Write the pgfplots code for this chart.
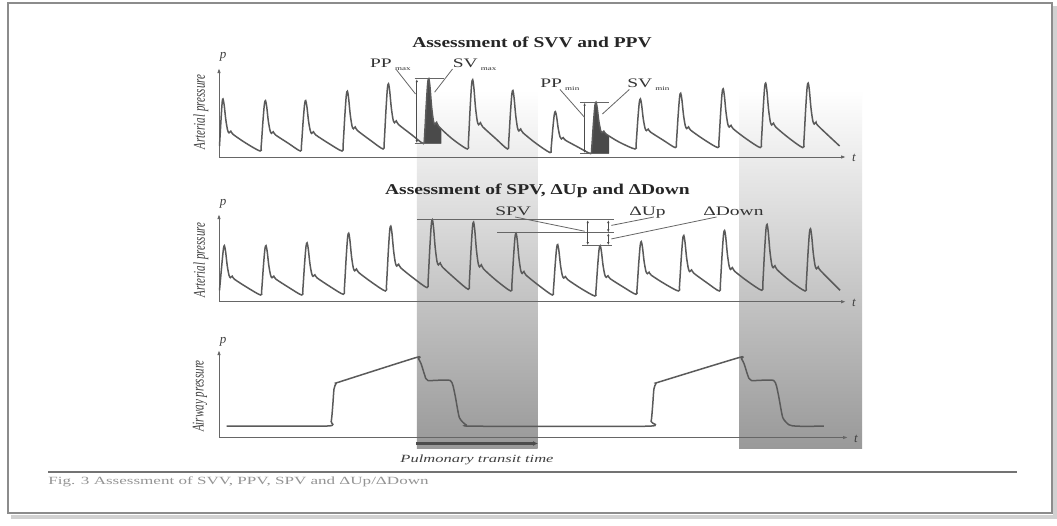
\documentclass[border=0pt]{standalone}
\usepackage{pgfplots}
\pgfplotsset{compat=1.18}
\usepackage{fontspec}
\setmainfont{Liberation Serif}
\usetikzlibrary{arrows.meta}
\definecolor{wave}{HTML}{5A5A5A}
\definecolor{svfill}{HTML}{4A4A4A}
\tikzset{
  lbl/.style={font=\fontsize{13}{15}\selectfont, xscale=1.5, inner sep=0pt, text=black!80},
  ttl/.style={font=\fontsize{15}{17}\selectfont\bfseries, xscale=1.3, inner sep=0pt, text=black!85},
  axl/.style={font=\fontsize{11}{13}\selectfont\itshape, xscale=1.5, rotate=90, inner sep=0pt, text=black!75},
  pt/.style={font=\fontsize{13}{15}\selectfont\itshape, inner sep=0pt, text=black!75},
  ax/.style={draw=black!60, line width=1pt, -{Latex[length=5pt,width=3.5pt]}},
  thin/.style={draw=black!60, line width=0.8pt},
  dbl/.style={draw=black!70, line width=0.8pt, {Latex[length=3pt,width=2.5pt]}-{Latex[length=3pt,width=2.5pt]}},
}
\begin{document}
\begin{tikzpicture}
\begin{axis}[x=1pt, y=1pt, xmin=0, xmax=1057, ymin=0, ymax=525, y dir=reverse,
  hide axis, clip=false, scale only axis]
% background and frame
\fill[white] (axis cs:0,0) rectangle (axis cs:1057,525);
\draw[black!18, line width=4pt] (axis cs:11,517) -- (axis cs:1055,517) -- (axis cs:1055,6);
\draw[black!45, line width=1.3pt] (axis cs:8,3) rectangle (axis cs:1052,513);
% gray bands
\shade[top color=white, middle color=black!24, bottom color=black!40] (axis cs:416.8,90) rectangle (axis cs:537.5,448);
\shade[top color=white, middle color=black!24, bottom color=black!40] (axis cs:739,90) rectangle (axis cs:862,448);
% caption rule and caption
\draw[black!55, line width=1.6pt] (axis cs:48,472) -- (axis cs:1017,472);
\node[anchor=base west, font=\fontsize{11}{13}\selectfont, xscale=1.55, text=black!42, inner sep=0pt] at (axis cs:48,484) {Fig. 3  Assessment of SVV, PPV, SPV and ΔUp/ΔDown};
% titles
\node[ttl] at (axis cs:532,42) {Assessment of SVV and PPV};
\node[ttl] at (axis cs:537.5,191) {Assessment of SPV, ΔUp and ΔDown};
% axes panel 1
\draw[ax] (axis cs:219,157) -- (axis cs:219,68);
\draw[ax] (axis cs:219,157) -- (axis cs:846,157);
\node[pt] at (axis cs:223,57) {p};
\node[pt] at (axis cs:854,158) {t};
\node[axl] at (axis cs:201,112) {Arterial pressure};
% axes panel 2
\draw[ax] (axis cs:219,301.7) -- (axis cs:219,214);
\draw[ax] (axis cs:219,301.7) -- (axis cs:846,301.7);
\node[pt] at (axis cs:223,204) {p};
\node[pt] at (axis cs:854,303) {t};
\node[axl] at (axis cs:201,260) {Arterial pressure};
% axes panel 3
\draw[ax] (axis cs:219,437.5) -- (axis cs:219,350);
\draw[ax] (axis cs:219,437.5) -- (axis cs:848,437.5);
\node[pt] at (axis cs:223,341.5) {p};
\node[pt] at (axis cs:856,438.5) {t};
\node[axl] at (axis cs:200,396) {Airway pressure};
% SV areas
\addplot[draw=none, fill=svfill] coordinates {(423.4,143.6) (424.5,137.1) (426.2,106) (427.7,83.2) (428.8,78.7) (430,87.1) (431.6,106.8) (433.4,120.9) (434.8,124.4) (436.6,122.3) (438.8,126.5) (441.4,128.9) (441.4,143.6)} -- cycle;
\addplot[draw=none, fill=svfill] coordinates {(590.6,153.6) (591.7,148.5) (593.4,123.8) (594.9,105.8) (596,102.2) (597.2,107.8) (598.8,120.9) (600.6,130.3) (602,132.6) (603.8,131.2) (606,134) (609.1,135.9) (609.1,153.6)} -- cycle;
% panel 1 arterial pressure
\addplot[wave, line width=1.5pt, smooth, tension=0.5] coordinates {
(219.5,146) (221,120) (222.2,102) (223,98.9) (224.2,105.2) (225.8,119.7) (227.6,130.2) (229,132.8) (230.8,131.2) (233,134.3) (246,143.2)
(260.1,151) (261.2,146) (262.9,121.8) (264.4,104.1) (265.5,100.6) (266.7,106.6) (268.3,120.8) (270.1,130.8) (271.5,133.4) (273.3,131.8) (275.5,134.9) (288.5,143.4)
(300.3,151) (301.4,146) (303.1,121.8) (304.6,104.1) (305.7,100.6) (306.9,106.6) (308.5,120.8) (310.3,130.8) (311.7,133.4) (313.5,131.8) (315.7,134.9) (328.7,143.4)
(342,151) (343.1,145) (344.8,116.3) (346.3,95.4) (347.4,91.2) (348.6,98.1) (350.2,114.3) (352,125.9) (353.4,128.8) (355.2,127) (357.4,130.5) (370.4,140.3)
(383.1,149) (384.2,142.5) (385.9,111.2) (387.4,88.4) (388.5,83.8) (389.7,91) (391.3,107.7) (393.1,119.7) (394.5,122.7) (396.3,120.9) (398.5,124.5) (411.5,134.6)
(423.4,143.6) (424.5,137.1) (426.2,106) (427.7,83.2) (428.8,78.7) (430,87.1) (431.6,106.8) (433.4,120.9) (434.8,124.4) (436.6,122.3) (438.8,126.5) (451.8,138.5)
(467.3,149) (468.4,142.1) (470.1,108.8) (471.6,84.6) (472.7,79.7) (473.9,88) (475.5,107.4) (477.3,121.3) (478.7,124.7) (480.5,122.7) (482.7,126.8) (495.7,138.6)
(507.5,149) (508.6,143.1) (510.3,115.1) (511.8,94.6) (512.9,90.5) (514.1,98) (515.7,115.3) (517.5,127.8) (518.9,130.9) (520.7,129) (522.9,132.7) (535.9,143.3)
(550,152.6) (551.1,148.5) (552.8,128.8) (554.3,114.5) (555.4,111.6) (556.6,116.6) (558.2,128.4) (560,136.8) (561.4,138.9) (563.2,137.6) (565.4,140.2) (578.4,147.3)
(590.6,153.6) (591.7,148.5) (593.4,123.8) (594.9,105.8) (596,102.2) (597.2,107.8) (598.8,120.9) (600.6,130.3) (602,132.6) (603.8,131.2) (606,134) (619,142)
(635,149) (636.1,144) (637.8,119.9) (639.3,102.4) (640.4,98.9) (641.6,104.7) (643.2,118.4) (645,128.1) (646.4,130.6) (648.2,129.1) (650.4,132) (663.4,140.3)
(675.3,147.6) (676.4,142.2) (678.1,116) (679.6,97) (680.7,93.2) (681.9,99.7) (683.5,115) (685.3,125.8) (686.7,128.6) (688.5,126.9) (690.7,130.2) (703.7,139.4)
(717.8,147.6) (718.9,141.7) (720.6,113.5) (722.1,92.9) (723.2,88.8) (724.4,95.9) (726,112.3) (727.8,124.1) (729.2,127) (731,125.3) (733.2,128.8) (746.2,138.8)
(760.3,147.6) (761.4,141.1) (763.1,110.2) (764.6,87.6) (765.7,83.1) (766.9,90.8) (768.5,108.9) (770.3,121.8) (771.7,125) (773.5,123.1) (775.7,127) (788.7,137.9)
(802.8,147.6) (803.9,141.1) (805.6,110.2) (807.1,87.6) (808.2,83.1) (809.4,90.6) (811,108.3) (812.8,120.8) (814.2,124) (816,122.1) (818.2,125.9) (839.6,146)
};
% panel 2 arterial pressure
\addplot[wave, line width=1.5pt, smooth, tension=0.5] coordinates {
(219.5,290.3) (221.8,265) (223.4,249) (224.4,245.6) (225.6,251.5) (227.2,265.4) (229,275.2) (230.4,277.7) (232.2,276.2) (234.4,279.2) (247.4,287.6)
(260.6,295) (261.7,290.1) (263.4,266.3) (264.9,249.1) (266,245.6) (267.2,251.5) (268.8,265.4) (270.6,275.2) (272,277.7) (273.8,276.2) (276,279.2) (289,287.6)
(301.7,295) (302.8,289.8) (304.5,264.8) (306,246.5) (307.1,242.9) (308.3,249.1) (309.9,263.5) (311.7,273.7) (313.1,276.3) (314.9,274.8) (317.1,277.9) (330.1,286.6)
(343.3,294.3) (344.4,288.2) (346.1,258.9) (347.6,237.5) (348.7,233.2) (349.9,240.1) (351.5,256.3) (353.3,267.9) (354.7,270.8) (356.5,269) (358.7,272.5) (371.7,282.3)
(385.4,291) (386.5,284.5) (388.2,253.4) (389.7,230.6) (390.8,226.1) (392,233.5) (393.6,250.7) (395.4,263) (396.8,266.1) (398.6,264.2) (400.8,267.9) (413.8,278.4)
(427,287.6) (428.1,280.8) (429.8,248.2) (431.3,224.5) (432.4,219.7) (433.6,228.1) (435.2,247.5) (437,261.5) (438.4,264.9) (440.2,262.9) (442.4,267) (455.4,278.9)
(468.2,289.3) (469.3,282.6) (471,250.3) (472.5,226.8) (473.6,222.1) (474.8,230.4) (476.4,249.7) (478.2,263.4) (479.6,266.9) (481.4,264.8) (483.6,269) (496.6,280.7)
(510.7,291) (511.8,285.2) (513.5,257.5) (515,237.2) (516.1,233.2) (517.3,240.6) (518.9,257.9) (520.7,270.3) (522.1,273.4) (523.9,271.5) (526.1,275.2) (539.1,285.7)
(552.3,295) (553.4,290) (555.1,265.8) (556.6,248.1) (557.7,244.6) (558.9,250.8) (560.5,265.2) (562.3,275.4) (563.7,278) (565.5,276.5) (567.7,279.6) (580.7,288.3)
(594.8,296) (595.9,291) (597.6,266.8) (599.1,249.1) (600.2,245.6) (601.4,251.4) (603,265.1) (604.8,274.8) (606.2,277.3) (608,275.8) (610.2,278.7) (623.2,287)
(635.9,294.3) (637,289) (638.7,263.7) (640.2,245.3) (641.3,241.6) (642.5,247.5) (644.1,261.4) (645.9,271.2) (647.3,273.7) (649.1,272.2) (651.3,275.2) (664.3,283.6)
(678.4,291) (679.5,285.4) (681.2,258.8) (682.7,239.4) (683.8,235.5) (685,242.2) (686.6,257.7) (688.4,268.8) (689.8,271.6) (691.6,269.9) (693.8,273.2) (706.8,282.7)
(719.2,291) (720.3,284.9) (722,255.9) (723.5,234.7) (724.6,230.5) (725.8,237.7) (727.4,254.4) (729.2,266.4) (730.6,269.4) (732.4,267.6) (734.6,271.2) (747.6,281.3)
(761.7,290.3) (762.8,283.7) (764.5,252.1) (766,229) (767.1,224.4) (768.3,232.4) (769.9,251) (771.7,264.4) (773.1,267.7) (774.9,265.7) (777.1,269.7) (790.1,281)
(805.1,291) (806.2,284.8) (807.9,254.9) (809.4,233.2) (810.5,228.8) (811.7,236.2) (813.3,253.4) (815.1,265.7) (816.5,268.8) (818.3,266.9) (820.5,270.6) (840,290.3)
};
% panel 3 airway pressure
\addplot[wave, line width=1.5pt, smooth, tension=0.35] coordinates {
(226.6,426) (327.3,426) (331.2,421.5) (332.8,405) (334,389) (336.2,383.3) (340.7,381.5) (415.9,357.6) (418.5,358.8) (421.2,364) (424.8,375.4) (427.9,380.5)
(450.3,380.5) (454.8,393.9) (459.3,417.4) (466,424.8) (474.9,426.2) (647.2,426.2) (651.1,421.5) (652.7,405) (653.9,389) (656.1,383.3) (660.6,381.5)
(738.9,357.6) (741.5,358.8) (744.2,364) (747.8,375.4) (751.4,380.5) (773.7,380.5) (778.2,393.9) (782.7,417.4) (789,424.8) (797,426.2) (823.9,426.2)
};
% PP max / SV max annotations
\draw[thin] (axis cs:414.5,78.7) -- (axis cs:443.6,78.7);
\draw[thin] (axis cs:414.5,143.6) -- (axis cs:441.4,143.6);
\draw[dbl] (axis cs:416.8,79.2) -- (axis cs:416.8,143.1);
\draw[thin] (axis cs:396.6,70) -- (axis cs:415.5,94);
\draw[thin] (axis cs:452.5,69) -- (axis cs:434.6,92.2);
\node[lbl, anchor=base west] at (axis cs:369.8,67.6) {PP\,\raisebox{-2.5pt}{\fontsize{6}{7}\selectfont max}};
\node[lbl, anchor=base west] at (axis cs:452.5,67.6) {SV\,\raisebox{-2.5pt}{\fontsize{6}{7}\selectfont max}};
% PP min / SV min annotations
\draw[thin] (axis cs:580,102.2) -- (axis cs:609,102.2);
\draw[thin] (axis cs:580,153.6) -- (axis cs:609,153.6);
\draw[dbl] (axis cs:584.6,102.7) -- (axis cs:584.6,153.1);
\draw[thin] (axis cs:560,89.5) -- (axis cs:584.6,117.4);
\draw[thin] (axis cs:629.3,89.5) -- (axis cs:602.4,114);
\node[lbl, anchor=base west] at (axis cs:540,87.8) {PP\,\raisebox{-2.5pt}{\fontsize{6}{7}\selectfont min}};
\node[lbl, anchor=base west] at (axis cs:627,87.8) {SV\,\raisebox{-2.5pt}{\fontsize{6}{7}\selectfont min}};
% SPV, dUp, dDown annotations
\draw[thin] (axis cs:416.8,219.7) -- (axis cs:613.6,219.7);
\draw[thin] (axis cs:497.3,232.8) -- (axis cs:613.6,232.8);
\draw[thin] (axis cs:582.3,245.6) -- (axis cs:612,245.6);
\draw[dbl] (axis cs:587.7,220.2) -- (axis cs:587.7,245.1);
\draw[dbl] (axis cs:608.3,220.2) -- (axis cs:608.3,232.4);
\draw[dbl] (axis cs:608.3,233.2) -- (axis cs:608.3,245.1);
\draw[thin] (axis cs:515.2,217) -- (axis cs:584.6,231.2);
\draw[thin] (axis cs:653.9,217) -- (axis cs:611.4,225.4);
\draw[thin] (axis cs:716.5,217) -- (axis cs:611.4,238.9);
\node[lbl, anchor=base west] at (axis cs:495,215) {SPV};
\node[lbl, anchor=base west] at (axis cs:629,215) {ΔUp};
\node[lbl, anchor=base west] at (axis cs:703,215) {ΔDown};
% pulmonary transit time
\draw[draw=black!70, line width=2.2pt, -{Latex[length=5pt,width=5pt]}] (axis cs:416,443.5) -- (axis cs:538,443.5);
\node[font=\fontsize{11}{13}\selectfont\itshape, xscale=1.5, inner sep=0pt, text=black!75] at (axis cs:477,460) {Pulmonary transit time};
\end{axis}
\end{tikzpicture}
\end{document}
